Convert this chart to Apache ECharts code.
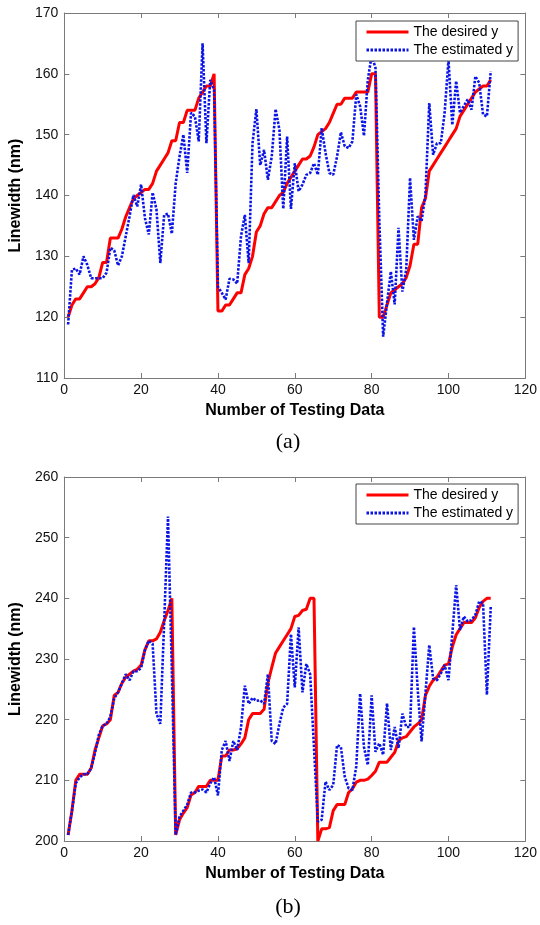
<!DOCTYPE html>
<html>
<head>
<meta charset="utf-8">
<script src="https://cdn.jsdelivr.net/npm/echarts@6/dist/echarts.min.js"></script>
<style>
  html, body { margin: 0; padding: 0; background: #fff; }
  #chart { width: 540px; height: 925px; }
</style>
</head>
<body>
<div id="chart"></div>
<script>
// values, x = 1..111
const topDesired = [
  120,122,123,123,124,125,125,125.5,126.5,129,129,133,133,133,134.5,136.5,138,139.5,140,140.5,
  141,141,142,144,145,146,147,149,149,152,152,154,154,154,156,157,158,158,160,
  121,121,122,122,123,124,124,127,128,130,134,135,137,138,138,139,140,140.5,142,143,
  144,145,146,146,146.5,148,150,150.5,151,152,153.5,155,155,156,156,156,157,157,157,157,160,160,
  120,120,122,124,124.5,125,125.5,126.5,128.5,132,132,138,139.5,144,145,146,147,148,149,150,
  151,153,154,155,156,157,157.5,158,158,159
];
const topEstimated = [
  118.8,127.8,128,127,130,128.6,126.4,126.4,126.4,126.4,127.3,131.4,131,128.5,130,133.3,136.6,140.1,138.2,141.8,
  136.3,133.6,140.5,137.7,128.9,136.8,137,133.7,142,146.4,150,143.7,153.6,153,148.9,165,148.6,159,157.4,125,
  124,122.9,126.3,126.2,125.5,133.3,136.8,128.9,148.6,154.2,145,147.5,142.6,146.4,154.2,150.8,137.8,149.7,137.8,145.3,
  140.7,141.8,143.4,143.7,145.3,143.4,151.1,147,143.7,143.4,146.4,150.4,148.1,147.8,148.9,156.6,154.7,149.8,159,163,
  161,136,116.8,122.3,127.5,122.1,134.7,124.2,127.8,142.9,132.7,136.6,135.8,140.1,155.2,146.7,148.6,148.6,153.6,162.3,
  151.6,158.8,153.6,154.7,155.8,154.1,159.6,158.5,153.3,153,160.4
];
const bottomDesired = [
  201,205,210,211,211,211,212,215,217,219,219.3,220,224,224.5,226,227,227.5,228,228.3,229,
  231.5,233,233,233.3,234.4,236.3,238,240,
  201,203.5,204.6,205.5,207.6,208,209,209,209,210,210,210,214,214,215,215,215.2,216,217,220,
  221,221,221,221.7,226,228.6,231,232,233,234,235,237,237.2,238,238.2,240,240,
  200,202,202,202.2,205,206,206,206,208,208.6,209.7,210,210,210.2,210.8,211.5,213,213,213,213.8,
  214.6,216.5,217,217.2,218,218.8,219.3,220,224,225.5,226.5,227,228,229,229.2,232,234,235,236,236,
  236,236.8,238.5,239.5,240,240
];
const bottomEstimated = [
  201,205,209.5,210.5,211,211,212,214.5,217.5,219,219.3,220.5,223.5,224.5,226,227.5,226.5,228,228,228.5,
  231.5,233,232.5,221,219.3,236,253.5,228,201,204,205,206,208,208,208.3,208.5,208,209.5,210.5,207.5,
  215,216.5,213.2,216.5,215,218.7,225.6,222.6,223.6,223.1,223.2,222.6,227.5,216.5,216,219.3,222,222.6,234.1,225.3,
  235.2,224.5,229.2,227.5,215.4,203.2,203.5,209.8,208.4,209.2,215.8,215.5,210.6,208.7,208.4,212.3,224.3,215.5,212.5,224,
  214.7,216.1,214.2,222.7,215,218.8,215.3,221,218.8,218.8,235.3,224.9,216.4,224.3,232.3,226.8,226.5,227.6,229,226.5,
  234.2,242.2,234.8,237,236.2,236.4,237.3,239.5,239.2,224.1,238.6
];
const xTicks = { min: 0, max: 120, interval: 20 };
const topY = { min: 110, max: 170, interval: 10 };
const bottomY = { min: 200, max: 260, interval: 10 };
const names = ["The desired y", "The estimated y"];

const frame = "#7a7a7a";
const font = "Liberation Sans, Arial, sans-serif";

function pairs(arr) {
  return arr.map((v, i) => [i + 1, v]);
}

function xAxes(grid) {
  const base = {
    type: "value", gridIndex: grid, min: xTicks.min, max: xTicks.max, interval: xTicks.interval,
    splitLine: { show: false },
    axisLine: { show: true, onZero: false, lineStyle: { color: frame, width: 1 } },
    axisTick: { inside: true, length: 5, lineStyle: { color: frame } },
  };
  return [
    { ...base, position: "bottom",
      axisLabel: { color: "#111", fontSize: 14, fontFamily: font, margin: 5 },
      name: "Number of Testing Data", nameLocation: "middle", nameGap: 25,
      nameTextStyle: { color: "#000", fontSize: 16, fontWeight: "bold", fontFamily: font } },
    { ...base, position: "top", axisLabel: { show: false } },
  ];
}

function yAxes(grid, r) {
  const base = {
    type: "value", gridIndex: grid, min: r.min, max: r.max, interval: r.interval,
    splitLine: { show: false },
    axisLine: { show: true, onZero: false, lineStyle: { color: frame, width: 1 } },
    axisTick: { inside: true, length: 5, lineStyle: { color: frame } },
  };
  return [
    { ...base, position: "left",
      axisLabel: { color: "#111", fontSize: 14, fontFamily: font, margin: 6 },
      name: "Linewidth (nm)", nameLocation: "middle", nameGap: 34,
      nameTextStyle: { color: "#000", fontSize: 16, fontWeight: "bold", fontFamily: font } },
    { ...base, position: "right", axisLabel: { show: false } },
  ];
}

function legendAt(top) {
  return {
    orient: "vertical", left: 356, top: top,
    data: names,
    backgroundColor: "#fff", borderColor: "#444", borderWidth: 1, borderRadius: 0,
    padding: [3, 5, 3, 9], itemGap: 2, itemWidth: 42, itemHeight: 16,
    itemStyle: { opacity: 0 },
    lineStyle: { width: 3 },
    textStyle: { color: "#000", fontSize: 14, fontFamily: font, lineHeight: 16 },
    selectedMode: false,
  };
}

function lineSeries(name, data, xi, yi) {
  const desired = name === names[0];
  return {
    type: "line", name, data: pairs(data), xAxisIndex: xi, yAxisIndex: yi,
    symbol: "none", animation: false, z: desired ? 2 : 3,
    lineStyle: desired
      ? { color: "#ff0000", width: 3 }
      : { color: "#0a14e6", width: 2.6, type: [2.5, 1.5] },
    itemStyle: { color: desired ? "#ff0000" : "#0a14e6" },
  };
}

const option = {
  backgroundColor: "#fff",
  grid: [
    { left: 60, top: 13, width: 467, height: 365 },
    { left: 61, top: 477, width: 468, height: 364 },
  ],
  xAxis: [...xAxes(0), ...xAxes(1)],
  yAxis: [...yAxes(0, topY), ...yAxes(1, bottomY)],
  legend: [legendAt(21), legendAt(484)],
  title: [
    { text: "(a)", left: 283, top: 426, textAlign: "center",
      textStyle: { fontFamily: "Liberation Serif, serif", fontSize: 22, fontWeight: "normal", color: "#000" } },
    { text: "(b)", left: 283, top: 891, textAlign: "center",
      textStyle: { fontFamily: "Liberation Serif, serif", fontSize: 22, fontWeight: "normal", color: "#000" } },
  ],
  series: [
    lineSeries(names[0], topDesired, 0, 0),
    lineSeries(names[1], topEstimated, 0, 0),
    lineSeries(names[0], bottomDesired, 2, 2),
    lineSeries(names[1], bottomEstimated, 2, 2),
  ],
};

const chart = echarts.init(document.getElementById("chart"), null, { renderer: "canvas" });
chart.setOption(option);
window.addEventListener("resize", () => chart.resize());
</script>
</body>
</html>
